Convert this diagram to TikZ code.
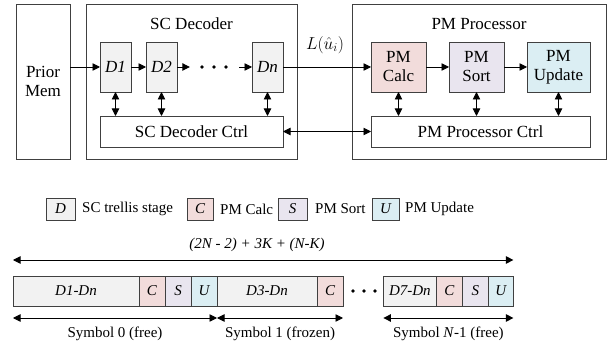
\documentclass[tikz,border=0pt]{standalone}
\usepackage{fontspec}
\setmainfont{Liberation Serif}
\newfontfamily\timesfont{Liberation Serif}
\usetikzlibrary{arrows.meta,positioning,calc}

\definecolor{stagegray}{HTML}{F2F2F2}
\definecolor{calcpink}{HTML}{F2DCDB}
\definecolor{sortlav}{HTML}{E9E5EF}
\definecolor{updblue}{HTML}{DBEEF3}
\definecolor{edge}{HTML}{404040}

\newcommand{\bigsz}{\timesfont\fontsize{17}{19}\selectfont}
\newcommand{\smallsz}{\timesfont\fontsize{15}{17}\selectfont}

\tikzset{
  blk/.style={draw=edge, line width=0.9pt, inner sep=0pt, outer sep=0pt, align=center},
  stage/.style={blk, fill=stagegray, minimum width=31, minimum height=50, font=\bigsz\itshape},
  pmblk/.style={blk, minimum width=55, minimum height=50},
  seg/.style={blk, minimum height=30, font=\smallsz\itshape},
  arr/.style={line width=0.9pt, -{Triangle[length=7.5pt,width=7.5pt]}},
  darr/.style={line width=0.9pt, {Triangle[length=7.5pt,width=7.5pt]}-{Triangle[length=7.5pt,width=7.5pt]}},
  small/.style={font=\smallsz},
}

\begin{document}
\begin{tikzpicture}[x=1pt,y=-1pt,font=\bigsz]
  \useasboundingbox (0,0) rectangle (616,352);

  % top: decoder blocks
  \node[blk, minimum width=54, minimum height=155] (prior) at (43,81.5) {Prior\\Mem};
  \node[blk, minimum width=211, minimum height=155] (scdec) at (191.5,81.5) {};
  \node (sctitle) at (191.5,24) {SC Decoder};
  \node[stage] (d1) at (115.5,67) {D1};
  \node[stage] (d2) at (161.5,67) {D2};
  \node[stage] (dn) at (267.5,67) {Dn};
  \node[minimum width=49, minimum height=10, inner sep=0pt] (dots) at (214.5,67) {};
  \foreach \x in {202,214,226}
    \fill (\x,67) circle [radius=1.8];
  \node[blk, minimum width=183, minimum height=31] (scctrl) at (191.5,131.5) {SC Decoder Ctrl};

  \node[blk, minimum width=254, minimum height=155] (pmproc) at (479,81.5) {};
  \node (pmtitle) at (479,24) {PM Processor};
  \node[pmblk, fill=calcpink] (calc) at (398.5,67) {PM\\Calc};
  \node[pmblk, fill=sortlav] (sort) at (476.5,67) {PM\\Sort};
  \node[pmblk, fill=updblue, minimum width=63] (upd) at (558.5,67) {PM\\Update};
  \node[blk, minimum width=219, minimum height=31] (pmctrl) at (480.5,131.5) {PM Processor Ctrl};

  \draw[arr] (prior.east |- d1.west) -- (d1.west);
  \draw[arr] (d1) -- (d2);
  \draw[arr] (d2) -- (dots.west);
  \draw[arr] (dots.east) -- (dn);
  \draw[arr] (dn) -- (calc);
  \node[inner sep=1pt] (llr) at (325,45) {$L(\hat{u}_i)$};
  \draw[arr] (calc) -- (sort);
  \draw[arr] (sort) -- (upd);
  \draw[darr] (scctrl) -- (pmctrl);
  \foreach \b in {d1,d2,dn}
    \draw[darr] (\b.south) -- (\b.south |- scctrl.north);
  \foreach \b in {calc,sort,upd}
    \draw[darr] (\b.south) -- (\b.south |- pmctrl.north);

  % legend
  \node[blk, fill=stagegray, minimum width=29, minimum height=22, font=\smallsz\itshape] (legd) at (60.5,209) {D};
  \node[small, anchor=west, inner sep=0pt] (legdtxt) at (82,209) {SC trellis stage};
  \node[blk, fill=calcpink, minimum width=26, minimum height=22, font=\smallsz\itshape] (legc) at (200,209) {C};
  \node[small, anchor=west, inner sep=0pt] (legctxt) at (220,209) {PM Calc};
  \node[blk, fill=sortlav, minimum width=29, minimum height=22, font=\smallsz\itshape] (legs) at (292.5,209) {S};
  \node[small, anchor=west, inner sep=0pt] (legstxt) at (315,209) {PM Sort};
  \node[blk, fill=updblue, minimum width=27, minimum height=22, font=\smallsz\itshape] (legu) at (385.5,209) {U};
  \node[small, anchor=west, inner sep=0pt] (legutxt) at (405,209) {PM Update};

  % bottom: schedule
  \node[seg, fill=stagegray, minimum width=126, anchor=west] (b1) at (13,291) {D1-Dn};
  \node[seg, fill=calcpink, minimum width=26, right=0pt of b1] (b2) {C};
  \node[seg, fill=sortlav, minimum width=26, right=0pt of b2] (b3) {S};
  \node[seg, fill=updblue, minimum width=26, right=0pt of b3] (b4) {U};
  \node[seg, fill=stagegray, minimum width=100, right=0pt of b4] (b5) {D3-Dn};
  \node[seg, fill=calcpink, minimum width=26, right=0pt of b5] (b6) {C};
  \node[minimum width=40, minimum height=10, inner sep=0pt, right=0pt of b6] (bdots) {};
  \foreach \x in {353,364,375}
    \fill (\x,291) circle [radius=1.8];
  \node[seg, fill=stagegray, minimum width=53, right=0pt of bdots] (b7) {D7-Dn};
  \node[seg, fill=calcpink, minimum width=26, right=0pt of b7] (b8) {C};
  \node[seg, fill=sortlav, minimum width=26, right=0pt of b8] (b9) {S};
  \node[seg, fill=updblue, minimum width=25, right=0pt of b9] (b10) {U};

  \coordinate (tl) at ($(b1.north west)+(0,-16)$);
  \coordinate (tr) at ($(b10.north east)+(0,-16)$);
  \draw[darr] (tl) -- (tr);
  \node[font=\smallsz\itshape] (total) at (257,245) {(2N - 2) + 3K + (N-K)};

  \coordinate (s0l) at ($(b1.south west)+(0,12)$);
  \coordinate (s0r) at ($(b4.south east)+(0,12)$);
  \coordinate (s1r) at ($(b6.south east)+(0,12)$);
  \coordinate (snl) at ($(b7.south west)+(0,12)$);
  \coordinate (snr) at ($(b10.south east)+(0,12)$);
  \draw[darr] (s0l) -- (s0r) node[midway, below=5pt, small] (sym0) {Symbol 0 (free)};
  \draw[darr] (s0r) -- (s1r) node[midway, below=5pt, small] (sym1) {Symbol 1 (frozen)};
  \draw[darr] (snl) -- (snr) node[midway, below=5pt, small] (symn) {Symbol \textit{N}-1 (free)};
\end{tikzpicture}
\end{document}
